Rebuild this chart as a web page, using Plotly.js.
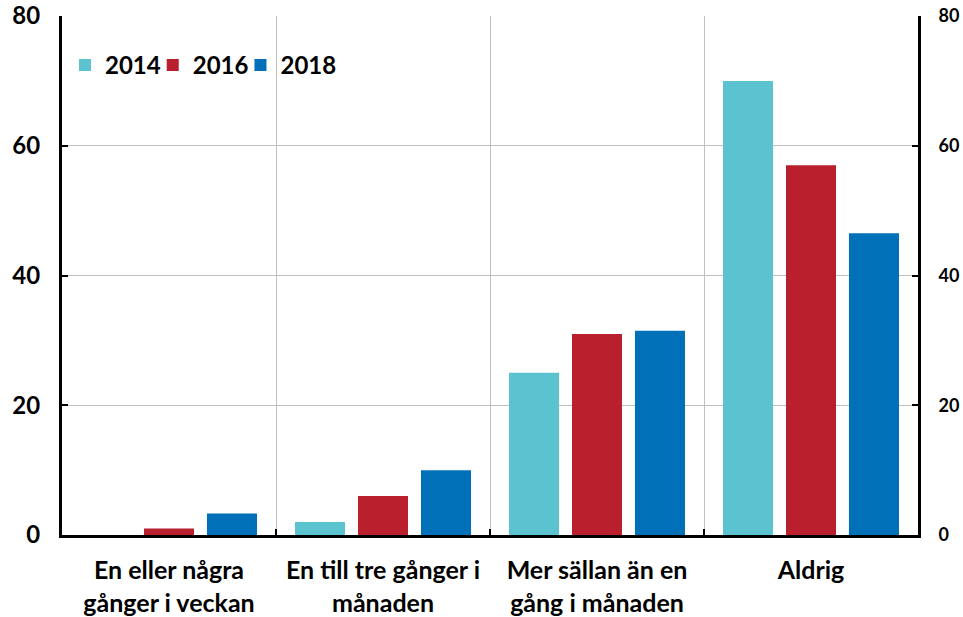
<!DOCTYPE html>
<html>
<head>
<meta charset="utf-8">
<script src="https://cdn.plot.ly/plotly-3.0.1.min.js"></script>
<style>html,body{margin:0;padding:0;background:#fff;}#chart{width:963px;height:617px;}</style>
</head>
<body>
<div id="chart"></div>
<script>
const categories = ["En eller några<br>gånger i veckan", "En till tre gånger i<br>månaden", "Mer sällan än en<br>gång i månaden", "Aldrig"];
const seriesNames = ["2014", "2016", "2018"];
const values2014 = [0, 2, 25, 70];
const values2016 = [1, 6, 31, 57];
const values2018 = [3.3, 10, 31.5, 46.5];
const colors = ["#5BC2CF", "#BA1F2D", "#0070B8"];
const yTicks = [0, 20, 40, 60, 80];

const seriesValues = [values2014, values2016, values2018];
const legendIds = ["legend", "legend2", "legend3"];
const traces = seriesNames.map((name, i) => ({
  type: "bar",
  name: name,
  x: categories,
  y: seriesValues[i],
  legend: legendIds[i],
  marker: {color: colors[i], line: {width: 0}},
  hoverinfo: "skip"
}));
// invisible helper so the right-hand axis is drawn
traces.push({
  type: "scatter", mode: "markers", x: categories, y: values2014,
  yaxis: "y2", marker: {opacity: 0}, showlegend: false, hoverinfo: "skip"
});

const font = {family: "Lato, 'Open Sans', sans-serif", color: "#000", weight: 700};
const legendBase = {
  orientation: "h", y: 0.905, xanchor: "left", yanchor: "middle",
  font: Object.assign({}, font, {size: 24}),
  bgcolor: "rgba(0,0,0,0)"
};
const legendX = [0.0035, 0.106, 0.2085];

const layout = {
  width: 963, height: 617,
  margin: {l: 62, r: 45, t: 16, b: 82},
  paper_bgcolor: "#fff", plot_bgcolor: "#fff",
  barmode: "group",
  bargap: 0.117,
  bargroupgap: 0.206,
  showlegend: true,
  legend: Object.assign({}, legendBase, {x: legendX[0]}),
  legend2: Object.assign({}, legendBase, {x: legendX[1]}),
  legend3: Object.assign({}, legendBase, {x: legendX[2]}),
  xaxis: {
    type: "category",
    showline: true, linecolor: "#000", linewidth: 3,
    ticks: "inside", ticklen: 6, tickwidth: 2, tickcolor: "#000",
    tickson: "boundaries",
    showgrid: true, gridcolor: "#BFBFBF", gridwidth: 1,
    tickfont: Object.assign({}, font, {size: 25}),
    ticklabelstandoff: 11,
    mirror: false, zeroline: false, fixedrange: true
  },
  yaxis: {
    range: [0, 80], tickvals: yTicks, ticktext: yTicks.map(String),
    showline: true, linecolor: "#000", linewidth: 3,
    ticks: "inside", ticklen: 6, tickwidth: 2, tickcolor: "#000",
    showgrid: true, gridcolor: "#BFBFBF", gridwidth: 1,
    zeroline: false,
    tickfont: Object.assign({}, font, {size: 24}),
    ticklabelstandoff: 14, fixedrange: true
  },
  yaxis2: {
    overlaying: "y", side: "right", anchor: "x",
    range: [0, 80], tickvals: yTicks, ticktext: yTicks.map(String),
    showline: true, linecolor: "#000", linewidth: 3,
    ticks: "inside", ticklen: 6, tickwidth: 2, tickcolor: "#000",
    showgrid: false, zeroline: false,
    tickfont: Object.assign({}, font, {size: 18}),
    ticklabelstandoff: 14, fixedrange: true
  }
};

Plotly.newPlot("chart", traces, layout, {displayModeBar: false, staticPlot: true});
</script>
</body>
</html>
